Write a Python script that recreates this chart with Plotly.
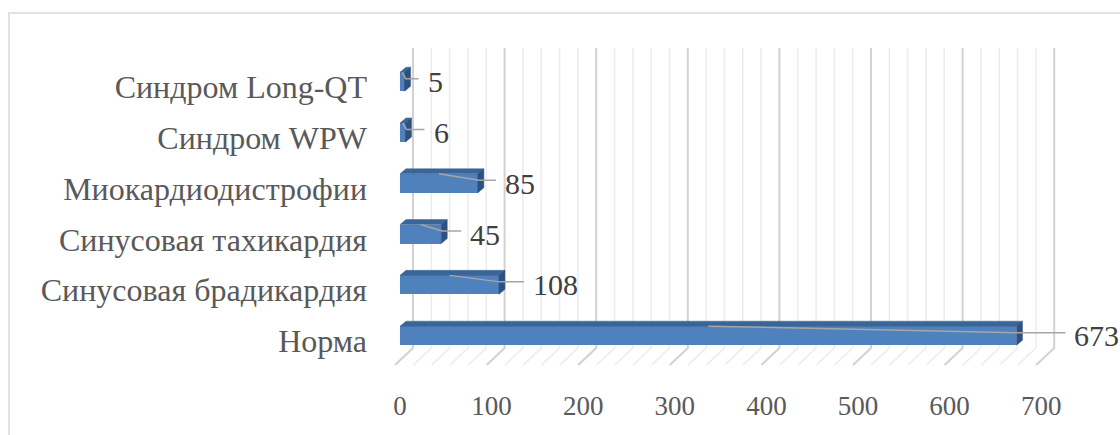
import plotly.graph_objects as go

# ---- data ----
categories = ["Норма", "Синусовая брадикардия", "Синусовая тахикардия",
              "Миокардиодистрофии", "Синдром WPW", "Синдром Long-QT"]
values = [673, 108, 45, 85, 6, 5]
x_ticks = [0, 100, 200, 300, 400, 500, 600, 700]
grid_step = 20

# ---- layout constants (pixels) ----
W, H = 1120, 435
ML, MR, MT, MB = 380, 20, 40, 50
PX0, PXU = 400.0, 0.916      # px of value 0, px per value unit
PY0, PYU = 341.0, 50.8       # px of category 0, px per category step
label_gap_px = [52, 28, 23, 21, 22, 17]

def ux(px):
    return px / PXU

def uy(px):
    return px / PYU

x_range = [(ML - PX0) / PXU, (W - MR - PX0) / PXU]
y_range = [(PY0 - (H - MB)) / PYU, (PY0 - MT) / PYU]

FONT = "Liberation Serif, Times New Roman, serif"
FRONT = "#4f81bd"
TOP = "#3a6596"
SIDE = "#2d5080"

fig = go.Figure()

# ---- back wall and floor gridlines (below all traces) ----
wall_bot = uy(PY0 - 348)
wall_top = uy(PY0 - 48)
floor_front = uy(PY0 - 365)
for t in range(0, x_ticks[-1] + 1, grid_step):
    major = t % 100 == 0
    xb = t + ux(13)
    xf = t + ux(-5)
    path = f"M {xf},{floor_front} L {xb},{wall_bot} L {xb},{wall_top}"
    fig.add_shape(type="path", path=path, xref="x", yref="y", layer="below",
                  line=dict(color="#d2d2d2" if major else "#ececec",
                            width=2 if major else 1.5))

# ---- bars ----
hh = uy(9.5)
off = 0.105
DX, DY = ux(6), uy(5)
yc = [i + off for i in range(len(categories))]

fig.add_trace(go.Bar(
    x=values, y=yc, orientation="h", width=2 * hh,
    marker=dict(color=FRONT, line=dict(width=0)),
    hoverinfo="skip", showlegend=False))

tx, ty, sx, sy = [], [], [], []
for v, y in zip(values, yc):
    tx += [0, v, v + DX, DX, 0, None]
    ty += [y + hh, y + hh, y + hh + DY, y + hh + DY, y + hh, None]
    sx += [v, v, v + DX, v + DX, v, None]
    sy += [y - hh, y + hh, y + hh + DY, y - hh + DY, y - hh, None]
fig.add_trace(go.Scatter(x=tx, y=ty, mode="lines", fill="toself", fillcolor=TOP,
                         line=dict(width=0.5, color=TOP), hoverinfo="skip", showlegend=False))
fig.add_trace(go.Scatter(x=sx, y=sy, mode="lines", fill="toself", fillcolor=SIDE,
                         line=dict(width=0.5, color=SIDE), hoverinfo="skip", showlegend=False))

# ---- leader lines and value labels ----
lx, ly = [], []
for v, y, g in zip(values, yc, label_gap_px):
    end = v + DX + ux(g - 9)
    lx += [v / 2, v + ux(1), end, None]
    ly += [y + hh, y + uy(3), y + uy(3), None]
    fig.add_annotation(x=v + DX, y=y, xshift=g - 2, text=str(v), showarrow=False,
                       xanchor="left", yanchor="middle",
                       font=dict(family=FONT, size=30, color="#404040"))
fig.add_trace(go.Scatter(x=lx, y=ly, mode="lines", hoverinfo="skip", showlegend=False,
                         line=dict(color="#a6a6a6", width=1.5)))

# ---- outer border ----
def paper_x(px):
    return (px - ML) / (W - ML - MR)

def paper_y(py):
    return ((H - MB) - py) / (H - MT - MB)

fig.add_shape(type="rect", xref="paper", yref="paper",
              x0=paper_x(9), x1=paper_x(W + 5), y0=paper_y(H + 5), y1=paper_y(13),
              line=dict(color="#d9d9d9", width=1.5), fillcolor="rgba(0,0,0,0)", layer="below")

fig.update_layout(
    width=W, height=H,
    margin=dict(l=ML, r=MR, t=MT, b=MB, pad=0),
    paper_bgcolor="white", plot_bgcolor="white",
    bargap=0,
    xaxis=dict(range=x_range, tickvals=x_ticks, ticktext=[str(t) for t in x_ticks],
               showgrid=False, zeroline=False, showline=False, ticks="",
               ticklabelstandoff=2,
               tickfont=dict(family=FONT, size=27, color="#595959")),
    yaxis=dict(range=y_range, tickvals=list(range(len(categories))), ticktext=categories,
               showgrid=False, zeroline=False, showline=False, ticks="",
               ticklabelstandoff=12,
               tickfont=dict(family=FONT, size=32, color="#595959")),
)

fig.write_html("out.html")
